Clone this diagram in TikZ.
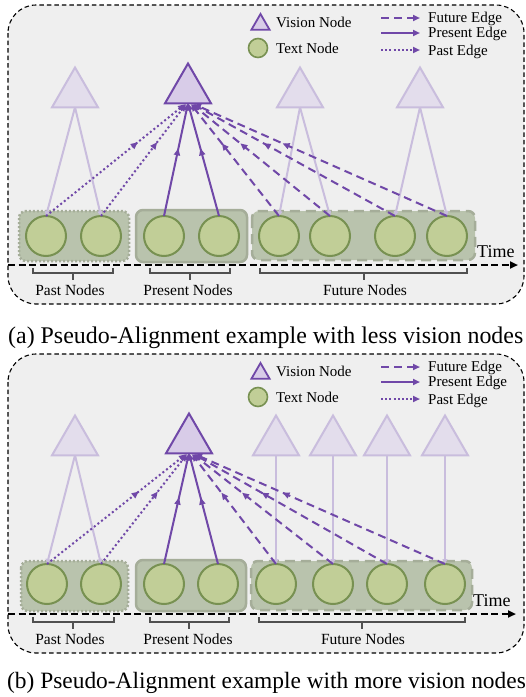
\documentclass[tikz,border=0pt]{standalone}
\usepackage{fontspec}
\setmainfont{Liberation Serif}
\usetikzlibrary{arrows.meta,shapes.geometric,decorations.markings}
\definecolor{vpurple}{HTML}{7048A8}
\definecolor{vfill}{HTML}{D8CCE8}
\definecolor{fdraw}{HTML}{C9BDDD}
\definecolor{ffill}{HTML}{E3DDEC}
\definecolor{tfill}{HTML}{C1CE97}
\definecolor{tdraw}{HTML}{789152}
\definecolor{gfill}{HTML}{B9C3AD}
\definecolor{gdraw}{HTML}{A5AD99}
\definecolor{bggray}{HTML}{EFEFEF}
\definecolor{brgray}{HTML}{505050}
\tikzset{
  panelbg/.style={draw=black, dash pattern=on 4.5pt off 3pt, line width=1.1pt, fill=bggray, rounded corners=28pt},
  vnode/.style={regular polygon, regular polygon sides=3, minimum size=53pt, inner sep=0pt, outer sep=0pt, draw=vpurple, fill=vfill, line width=2pt},
  fnode/.style={vnode, draw=fdraw, fill=ffill},
  tnode/.style={circle, minimum size=40pt, inner sep=0pt, outer sep=0pt, draw=tdraw, fill=tfill, line width=2pt},
  grpbase/.style={rounded corners=7pt, fill=gfill, draw=gdraw, line width=2.5pt},
  grppast/.style={grpbase, dash pattern=on 2pt off 2pt},
  grppres/.style={grpbase},
  grpfut/.style={grpbase, dash pattern=on 10pt off 6pt},
  timeax/.style={black, line width=2.2pt, dash pattern=on 7pt off 3.5pt, -{Triangle[length=8pt,width=7pt]}},
  tip/.style={-{Triangle[length=7pt,width=6pt]}},
  midtip/.style={postaction={decorate}, decoration={markings, mark=at position #1 with {\arrow{Triangle[length=7pt,width=6pt]}}}},
  pastedge/.style={vpurple, line width=2pt, dash pattern=on 2pt off 2.6pt, tip, midtip=0.66},
  presedge/.style={vpurple, line width=2pt, tip, midtip=0.6},
  futedge/.style={vpurple, line width=2pt, dash pattern=on 8pt off 5pt, tip, midtip=0.65},
  fedge/.style={fdraw, line width=2pt, -{Triangle[length=5pt,width=5pt]}},
  brace/.style={brgray, line width=1.5pt},
  lbl/.style={inner sep=0pt, font=\fontsize{15}{15}\selectfont},
  blbl/.style={inner sep=0pt, font=\fontsize{15.5}{15.5}\selectfont},
  timelbl/.style={inner sep=0pt, font=\fontsize{18}{18}\selectfont},
  caption/.style={inner sep=0pt, font=\fontsize{23.9}{24}\selectfont},
}
\newcommand\drawlegend[1]{%
  \node[vnode, minimum size=21pt, line width=1.8pt] (#1lv) at (260.5,24.5) {};
  \node[tnode, minimum size=19pt, line width=1.6pt] (#1lt) at (258,48) {};
  \node[lbl, anchor=base west] (#1lvt) at (276,27) {Vision Node};
  \node[lbl, anchor=base west] (#1ltt) at (276,53) {Text Node};
  \coordinate (#1fa) at (381,18); \coordinate (#1fb) at (420,18);
  \coordinate (#1pa) at (381,33); \coordinate (#1pb) at (420,33);
  \coordinate (#1qa) at (381,50); \coordinate (#1qb) at (420,50);
  \draw[vpurple, line width=2pt, dash pattern=on 8pt off 5pt, tip] (#1fa) -- (#1fb);
  \draw[vpurple, line width=2pt, tip] (#1pa) -- (#1pb);
  \draw[vpurple, line width=2pt, dash pattern=on 2pt off 2.2pt, tip] (#1qa) -- (#1qb);
  \node[lbl, anchor=base west] (#1ft) at (428,22.5) {Future Edge};
  \node[lbl, anchor=base west] (#1pt) at (428,37.5) {Present Edge};
  \node[lbl, anchor=base west] (#1qt) at (428,55) {Past Edge};
}
\begin{document}
\begin{tikzpicture}[x=1pt,y=-1pt]
\useasboundingbox (0,0) rectangle (526,697);

% ================= panel (a) =================
\draw[panelbg] (8,5) rectangle (524,304);
\drawlegend{a}
\draw[grppast] (19,211) rectangle (129,261);
\draw[grppres] (136,210) rectangle (247,262);
\draw[grpfut] (252,211) rectangle (475,260);
\coordinate (ats) at (8,265); \coordinate (ate) at (518,265);
\draw[timeax] (ats) -- (ate);
\node[timelbl, anchor=base west] (atime) at (477,257) {Time};

\node[tnode] (a1) at (46,236) {};
\node[tnode] (a2) at (101,236) {};
\node[tnode] (a3) at (164,236) {};
\node[tnode] (a4) at (219,236) {};
\node[tnode] (a5) at (279,236) {};
\node[tnode] (a6) at (330,236) {};
\node[tnode] (a7) at (395,236) {};
\node[tnode] (a8) at (447,236) {};

\node[fnode] (af1) at (75,94) {};
\node[fnode] (af2) at (300,94) {};
\node[fnode] (af3) at (420,94) {};
\draw[fedge] (af1.side 2) -- (a1.north);
\draw[fedge] (af1.side 2) -- (a2.north);
\draw[fedge] (af2.side 2) -- (a5.north);
\draw[fedge] (af2.side 2) -- (a6.north);
\draw[fedge] (af3.side 2) -- (a7.north);
\draw[fedge] (af3.side 2) -- (a8.north);

\node[vnode] (am) at (188,90) {};
\draw[pastedge] (a1.north) -- ([xshift=-3pt,yshift=-1pt]am.side 2);
\draw[pastedge] (a2.north) -- ([xshift=-2pt,yshift=-1pt]am.side 2);
\draw[presedge] (a3.north) -- (am.side 2);
\draw[presedge] (a4.north) -- (am.side 2);
\draw[futedge] (a5.north) -- ([xshift=3pt,yshift=-1pt]am.side 2);
\draw[futedge] (a6.north) -- ([xshift=4pt,yshift=-1pt]am.side 2);
\draw[futedge] (a7.north) -- ([xshift=5pt,yshift=-1pt]am.side 2);
\draw[futedge] (a8.north) -- ([xshift=6pt,yshift=-1pt]am.side 2);

\draw[brace] (33,268) -- (33,273) -- (113,273) -- (113,268) (73,273) -- (73,280);
\draw[brace] (150,268) -- (150,273) -- (230,273) -- (230,268) (190,273) -- (190,280);
\draw[brace] (260,268) -- (260,273) -- (467,273) -- (467,268) (364,273) -- (364,280);
\node[blbl, anchor=base] (apl) at (70,295) {Past Nodes};
\node[blbl, anchor=base] (aprl) at (188,295) {Present Nodes};
\node[blbl, anchor=base] (afl) at (365,295) {Future Nodes};

\node[caption, anchor=base west] (capa) at (8,343) {(a) Pseudo-Alignment example with less vision nodes};

% ================= panel (b) =================
\begin{scope}[yshift=-349pt]
\draw[panelbg] (8,5) rectangle (524,304);
\drawlegend{b}
\draw[grppast] (21,212) rectangle (128,262);
\draw[grppres] (136,211) rectangle (246,262);
\draw[grpfut] (251,212) rectangle (472,261);
\coordinate (bts) at (8,265); \coordinate (bte) at (516,265);
\draw[timeax] (bts) -- (bte);
\node[timelbl, anchor=base west] (btime) at (473,257) {Time};

\node[tnode] (b1) at (47,235) {};
\node[tnode] (b2) at (101,235) {};
\node[tnode] (b3) at (164,235) {};
\node[tnode] (b4) at (218,235) {};
\node[tnode] (b5) at (276,235) {};
\node[tnode] (b6) at (333,235) {};
\node[tnode] (b7) at (387,235) {};
\node[tnode] (b8) at (445,235) {};

\node[fnode] (bf1) at (75,93) {};
\node[fnode] (bf2) at (276,93) {};
\node[fnode] (bf3) at (333,93) {};
\node[fnode] (bf4) at (387,93) {};
\node[fnode] (bf5) at (445,93) {};
\draw[fedge] (bf1.side 2) -- (b1.north);
\draw[fedge] (bf1.side 2) -- (b2.north);
\draw[fedge] (bf2.side 2) -- (b5.north);
\draw[fedge] (bf3.side 2) -- (b6.north);
\draw[fedge] (bf4.side 2) -- (b7.north);
\draw[fedge] (bf5.side 2) -- (b8.north);

\node[vnode] (bm) at (189,91) {};
\draw[pastedge] (b1.north) -- ([xshift=-3pt,yshift=-1pt]bm.side 2);
\draw[pastedge] (b2.north) -- ([xshift=-2pt,yshift=-1pt]bm.side 2);
\draw[presedge] (b3.north) -- (bm.side 2);
\draw[presedge] (b4.north) -- (bm.side 2);
\draw[futedge] (b5.north) -- ([xshift=3pt,yshift=-1pt]bm.side 2);
\draw[futedge] (b6.north) -- ([xshift=4pt,yshift=-1pt]bm.side 2);
\draw[futedge] (b7.north) -- ([xshift=5pt,yshift=-1pt]bm.side 2);
\draw[futedge] (b8.north) -- ([xshift=6pt,yshift=-1pt]bm.side 2);

\draw[brace] (33,268) -- (33,273) -- (114,273) -- (114,268) (73,273) -- (73,280);
\draw[brace] (150,268) -- (150,273) -- (229,273) -- (229,268) (189,273) -- (189,280);
\draw[brace] (259,268) -- (259,273) -- (465,273) -- (465,268) (362,273) -- (362,280);
\node[blbl, anchor=base] (bpl) at (70,295) {Past Nodes};
\node[blbl, anchor=base] (bprl) at (188,295) {Present Nodes};
\node[blbl, anchor=base] (bfl) at (363,295) {Future Nodes};
\end{scope}

\node[caption, anchor=base west, font=\fontsize{23.4}{24}\selectfont] (capb) at (7,688) {(b) Pseudo-Alignment example with more vision nodes};
\end{tikzpicture}
\end{document}
